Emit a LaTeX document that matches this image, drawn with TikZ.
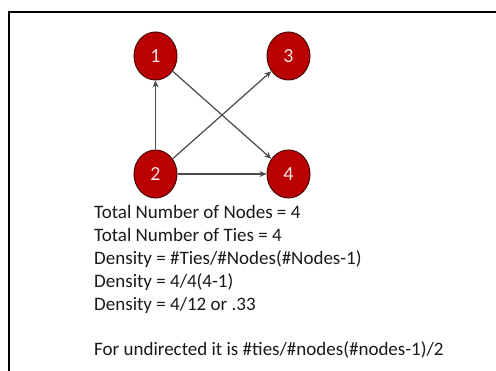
\documentclass[tikz,border=0pt]{standalone}
\usepackage{fontspec}
\setmainfont{Carlito}
\usetikzlibrary{shapes.geometric,arrows.meta}
\definecolor{nodered}{HTML}{BA0000}
\definecolor{nodeedge}{HTML}{4A0808}
\definecolor{edgegray}{HTML}{4A4A4A}
\definecolor{labelpink}{HTML}{F6E4E4}
\definecolor{txt}{HTML}{1A1A1A}
\tikzset{
  vert/.style={ellipse, draw=nodeedge, line width=1pt, fill=nodered,
    minimum width=43pt, minimum height=48pt, inner sep=0pt,
    text=labelpink, font=\fontsize{20}{20}\selectfont},
  tie/.style={draw=edgegray, line width=1.2pt, -{Stealth[length=7pt,width=6pt]}},
  frame/.style={line width=2.2pt, black}
}
\begin{document}
\begin{tikzpicture}[x=1pt,y=-1pt]
\useasboundingbox (0,0) rectangle (496,371);
\fill[white] (0,0) rectangle (496,371);
\coordinate (ftl) at (9,12);
\coordinate (ftr) at (496,12);
\coordinate (fbl) at (9,371);
\draw[frame] (ftr) -- (ftl) -- (fbl);
\node[vert] (n1) at (155.5,56) {1};
\node[vert] (n3) at (288.5,56) {3};
\node[vert] (n2) at (155.5,174) {2};
\node[vert] (n4) at (288.5,174) {4};
\draw[tie] (n2) -- (n1);
\draw[tie] (n1) -- (n4);
\draw[tie] (n2) -- (n3);
\draw[tie] (n2) -- (n4);
\node[anchor=base west, align=left, inner sep=0pt, text=txt,
  font=\fontsize{19}{23}\selectfont] (txt) at (94,356)
  {Total Number of Nodes = 4\\
   Total Number of Ties = 4\\
   Density = \#Ties/\#Nodes(\#Nodes-1)\\
   Density = 4/4(4-1)\\
   Density = 4/12 or .33\\[22pt]
   For undirected it is \#ties/\#nodes(\#nodes-1)/2};
\end{tikzpicture}
\end{document}
